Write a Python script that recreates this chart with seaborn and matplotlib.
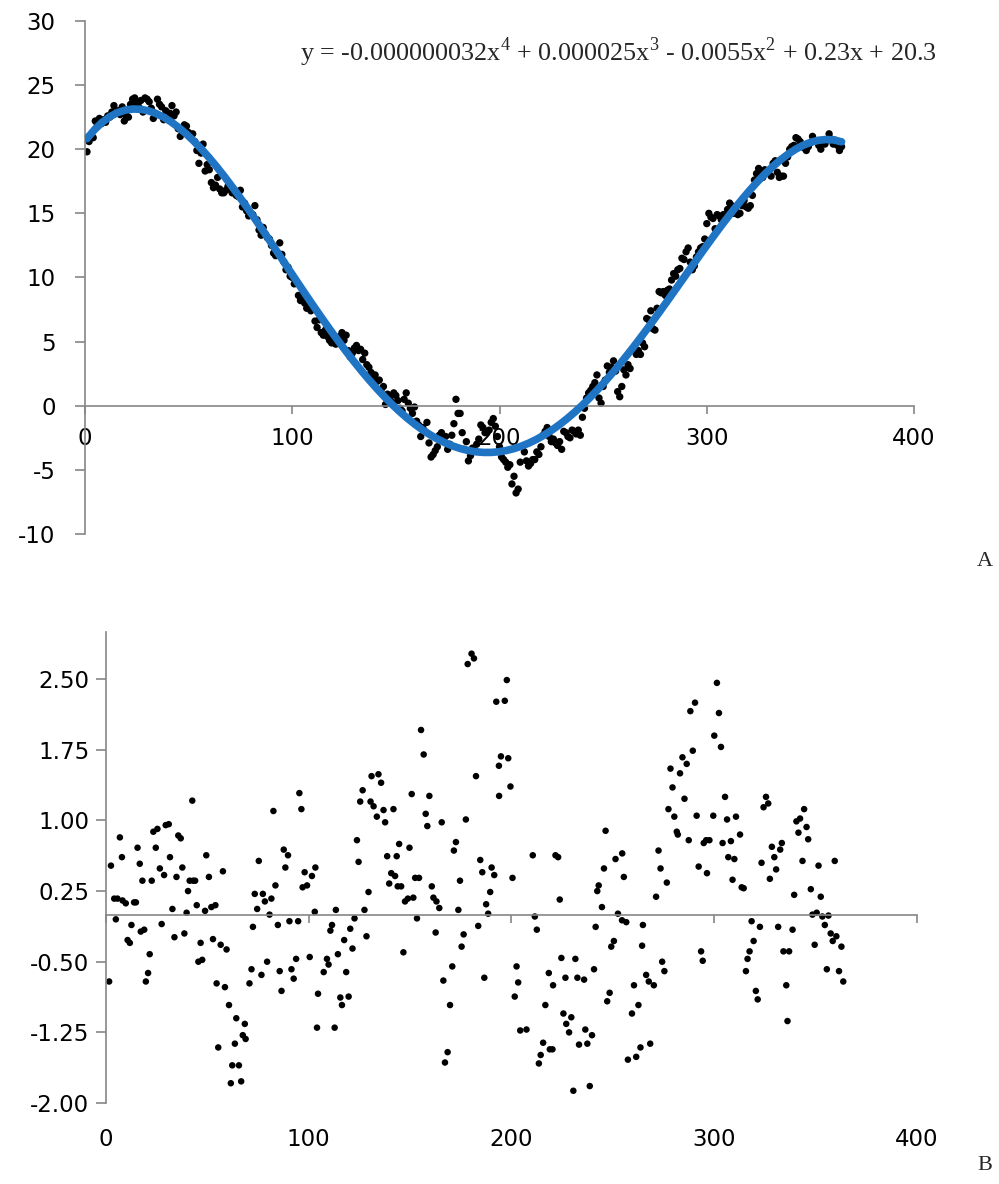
import numpy as np
import pandas as pd
import seaborn as sns
import matplotlib.pyplot as plt

# panel A: daily values, day 1..365
temp = [
    19.8, 20.6, 21.0, 20.9, 22.2, 21.9, 22.4, 22.0, 22.3, 22.1,
    22.6, 22.5, 22.9, 23.4, 22.8, 23.0, 22.7, 23.3, 22.2, 22.6,
    22.5, 23.5, 23.9, 24.0, 23.6, 23.3, 23.8, 22.9, 24.0, 23.9,
    23.7, 23.2, 22.4, 22.8, 23.9, 23.5, 23.3, 22.3, 23.0, 22.4,
    22.8, 23.4, 22.6, 22.9, 21.6, 21.0, 21.4, 21.9, 21.8, 21.3,
    20.9, 21.2, 20.6, 19.9, 18.9, 19.7, 20.4, 18.3, 18.8, 18.4,
    17.4, 17.0, 17.2, 17.8, 16.9, 16.6, 16.6, 16.8, 17.1, 16.9,
    16.6, 16.8, 16.4, 16.3, 16.8, 15.5, 15.8, 15.2, 14.8, 15.0,
    14.9, 15.6, 14.5, 13.7, 13.3, 13.9, 13.4, 13.1, 13.0, 12.5,
    11.9, 11.7, 11.9, 12.7, 11.8, 11.2, 10.6, 10.8, 10.1, 10.0,
    9.5, 9.6, 8.6, 8.2, 8.4, 8.0, 7.6, 7.9, 7.4, 7.6,
    6.6, 6.1, 6.7, 5.7, 5.5, 5.9, 5.4, 5.1, 4.9, 5.2,
    4.8, 5.0, 5.4, 5.7, 5.1, 5.5, 4.3, 3.8, 4.1, 4.5,
    4.7, 4.3, 4.4, 3.6, 4.1, 3.2, 3.0, 2.6, 2.2, 2.4,
    1.9, 2.0, 1.3, 1.5, 0.1, 0.9, 0.6, 0.3, 1.0, 0.8,
    0.4, -0.2, -0.4, 0.5, 1.0, 0.2, -0.2, -0.6, -0.1, -1.2,
    -1.5, -2.4, -1.7, -2.0, -1.3, -2.9, -4.0, -3.8, -3.5, -3.2,
    -2.3, -2.1, -2.8, -2.4, -3.4, -3.0, -2.3, -1.4, 0.5, -0.6,
    -0.6, -2.1, -3.4, -2.8, -4.3, -3.9, -3.3, -3.5, -3.0, -2.6,
    -1.5, -1.7, -2.1, -2.1, -1.9, -1.3, -1.0, -1.6, -2.4, -3.2,
    -4.0, -4.2, -4.4, -4.8, -4.6, -6.1, -5.5, -6.8, -6.5, -4.4,
    -3.2, -3.6, -4.3, -4.7, -4.5, -4.2, -4.2, -3.6, -3.8, -3.2,
    -2.3, -2.0, -1.7, -2.4, -2.8, -2.6, -2.9, -3.1, -2.8, -3.4,
    -2.0, -2.1, -2.4, -2.5, -1.9, -2.0, -2.2, -1.9, -2.3, -0.9,
    -0.2, 0.6, 1.0, 1.2, 1.5, 1.8, 2.4, 0.6, 0.2, 1.5,
    2.0, 3.1, 2.6, 3.0, 3.5, 2.7, 1.1, 0.7, 1.5, 2.8,
    2.4, 3.2, 2.9, 4.3, 4.6, 4.0, 4.3, 4.0, 4.9, 4.6,
    6.8, 6.7, 7.4, 6.0, 5.9, 7.6, 8.9, 8.8, 8.9, 8.6,
    9.0, 9.1, 9.8, 10.3, 10.1, 10.6, 10.7, 11.5, 11.4, 12.0,
    12.3, 11.2, 10.6, 10.9, 11.6, 12.0, 12.3, 12.4, 13.0, 14.2,
    15.0, 14.7, 14.6, 13.8, 14.9, 14.8, 14.5, 14.9, 14.6, 15.3,
    15.8, 15.6, 15.0, 15.2, 14.9, 15.0, 15.6, 16.0, 15.5, 15.4,
    15.6, 16.4, 17.6, 18.1, 18.5, 18.3, 17.8, 18.4, 18.3, 18.3,
    17.9, 18.9, 19.1, 18.2, 17.8, 17.9, 17.9, 18.9, 19.4, 20.0,
    20.2, 20.3, 20.9, 20.8, 20.6, 20.4, 20.1, 19.9, 20.2, 20.5,
    21.0, 20.7, 20.6, 20.3, 20.0, 20.6, 20.4, 20.7, 21.2, 20.8,
    20.4, 20.7, 20.3, 19.9, 20.2,
]
day_a = np.arange(1, len(temp) + 1)

# panel B: residuals (day, value)
res_day = [
    1.6, 2.5, 4.1, 4.9, 5.7, 6.9, 7.9, 8.2, 9.8, 10.7, 11.8, 12.6, 13.9, 14.8,
    15.6, 16.7, 17.2, 18.0, 18.9, 19.7, 20.8, 21.6, 22.6, 23.4, 24.6, 25.4,
    26.6, 27.5, 28.7, 29.5, 31.0, 31.6, 32.8, 33.8, 34.8, 35.7, 36.9, 37.7,
    38.7, 39.8, 40.5, 41.3, 42.6, 43.0, 44.0, 44.8, 45.6, 46.7, 47.5, 48.9,
    49.5, 50.8, 52.0, 52.8, 54.0, 54.6, 55.4, 56.6, 57.7, 58.7, 59.5, 60.7,
    61.6, 62.3, 63.6, 64.3, 65.6, 66.7, 67.5, 68.5, 68.9, 70.8, 71.8, 72.5,
    73.4, 74.6, 75.4, 76.7, 77.4, 78.4, 79.5, 80.7, 81.6, 82.6, 83.6, 84.8,
    85.7, 86.6, 87.7, 88.5, 89.8, 90.5, 91.5, 92.6, 93.8, 94.8, 95.4, 96.4,
    97.0, 98.0, 99.2, 100.5, 101.6, 103.0, 103.3, 104.1, 104.6,
    107.4, 109.0, 109.8, 110.7, 111.5, 112.8, 113.4, 114.4, 115.6, 116.4,
    117.5, 118.5, 119.7, 120.5, 121.6, 122.6, 123.8, 124.6, 125.4, 126.6,
    127.5, 128.5, 129.5, 130.5, 131.0, 132.0, 133.6, 134.4, 135.7, 136.9,
    137.7, 138.7, 139.7, 140.7, 141.8, 142.6, 143.4, 143.9, 144.6, 145.6,
    146.7, 147.5, 148.9, 149.7, 150.8, 151.6, 152.5, 153.4, 154.4, 155.4,
    156.7, 157.7, 158.5, 159.5, 160.7, 161.5, 162.6, 163.0, 164.4, 165.6,
    166.4, 167.2, 168.5, 169.7, 170.8, 171.6, 172.6, 173.8, 174.6, 175.4,
    176.4, 177.5, 178.4, 180.3, 181.5, 182.5, 183.6, 184.6, 185.6, 186.6,
    187.5, 188.5, 189.5, 190.2, 191.5, 192.5, 193.8, 193.9, 194.8, 196.7,
    197.7, 198.4, 199.5, 200.5, 201.6, 202.5, 203.3, 204.3, 207.4,
    210.5, 211.5, 212.5, 213.5, 214.4, 215.6, 216.7, 218.4, 218.9, 220.2,
    220.5, 221.7, 223.0, 223.8, 224.6, 225.6, 226.6, 227.0, 228.4, 229.5,
    230.5, 231.5, 232.5, 233.3, 235.8, 236.4, 237.4, 238.6, 239.7, 240.7,
    241.5, 242.3, 243.0, 244.6, 245.6, 246.4, 247.2, 248.4, 249.2, 250.5,
    251.3, 252.5, 254.5, 254.6, 255.4, 256.6, 257.4, 259.4, 260.4, 261.5,
    262.6, 263.6, 264.4, 264.8, 266.4, 267.7, 268.4, 270.2, 271.3, 272.5,
    273.5, 274.3, 275.4, 276.6, 277.4, 278.4, 279.4, 280.3, 281.5, 282.0,
    283.1, 284.3, 285.3, 286.4, 287.4, 288.2, 289.4, 290.5, 291.3, 292.3,
    293.5, 294.3, 294.8, 296.0, 296.4, 297.6, 299.5, 300.0, 301.3, 302.3,
    303.3, 304.1, 305.3, 306.3, 306.9, 308.2, 309.0, 309.9, 310.7,
    312.7, 313.5, 314.5, 315.6, 316.4, 317.4, 318.4, 319.4, 320.5, 321.4,
    322.5, 323.3, 324.3, 325.5, 326.6, 327.4, 328.4, 329.6, 330.5, 331.5,
    332.5, 333.3, 334.1, 335.5, 336.1, 336.9, 338.6, 339.4, 340.5, 341.5,
    342.3, 343.5, 344.3, 345.5, 346.3, 347.6, 348.4, 349.5, 350.5, 351.4,
    352.5, 353.3, 354.5, 355.5, 356.3, 357.4, 358.4, 359.4, 360.2, 361.5,
    362.7, 363.6,
]
res_val = [
    -0.71, 0.52, 0.17, -0.05, 0.17, 0.82, 0.61, 0.15, 0.12, -0.27, -0.30, -0.11, 0.13, 0.13,
    0.71, 0.54, -0.18, 0.36, -0.16, -0.71, -0.62, -0.42, 0.36, 0.88, 0.71, 0.91,
    0.49, -0.10, 0.42, 0.95, 0.96, 0.61, 0.06, -0.24, 0.40, 0.84, 0.81, 0.50,
    -0.20, 0.02, 0.25, 0.36, 1.21, 0.36, 0.36, 0.10, -0.50, -0.30, -0.48, 0.04,
    0.63, 0.40, 0.08, -0.26, 0.10, -0.73, -1.41, -0.32, 0.46, -0.77, -0.37, -0.96,
    -1.79, -1.60, -1.37, -1.10, -1.60, -1.77, -1.28, -1.16, -1.32, -0.73, -0.58, -0.13,
    0.22, 0.06, 0.57, -0.64, 0.22, 0.14, -0.50, 0.00, 0.17, 1.10, 0.31, -0.11,
    -0.60, -0.81, 0.69, 0.50, 0.63, -0.07, -0.58, -0.68, -0.47, -0.07, 1.29, 1.12,
    0.29, 0.45, 0.31, -0.45, 0.41, 0.03, 0.50, -1.20, -0.84,
    -0.61, -0.47, -0.53, -0.17, -0.11, -1.20, 0.05, -0.42, -0.88, -0.96,
    -0.27, -0.61, -0.87, -0.15, -0.36, -0.04, 0.79, 0.56, 1.20, 1.32,
    0.05, -0.23, 0.24, 1.20, 1.47, 1.15, 1.04, 1.49, 1.40, 1.11,
    0.98, 0.62, 0.33, 0.44, 1.12, 0.41, 0.62, 0.30, 0.75, 0.30,
    -0.40, 0.14, 0.17, 0.71, 1.28, 0.18, 0.39, -0.04, 0.39, 1.96,
    1.70, 1.07, 0.94, 1.26, 0.30, 0.18, -0.19, 0.14, 0.07, 0.98,
    -0.70, -1.57, -1.46, -0.96, -0.55, 0.68, 0.77, 0.05, 0.36, -0.34,
    -0.21, 1.01, 2.66, 2.77, 2.72, 1.47, -0.12, 0.58, 0.45, -0.67,
    0.11, 0.01, 0.24, 0.50, 0.42, 2.26, 1.58, 1.26, 1.68, 2.27,
    2.49, 1.66, 1.36, 0.39, -0.87, -0.55, -0.72, -1.23, -1.22,
    0.63, -0.02, -0.16, -1.58, -1.49, -1.36, -0.96, -0.62, -1.43, -1.43,
    -0.75, 0.63, 0.61, 0.16, -0.46, -1.05, -0.67, -1.16, -1.25, -1.09,
    -1.87, -0.47, -0.67, -1.38, -0.69, -1.22, -1.37, -1.82, -1.28, -0.58,
    -0.13, 0.25, 0.31, 0.08, 0.49, 0.89, -0.92, -0.83, -0.34, -0.28,
    0.59, 0.01, -0.06, 0.65, 0.40, -0.08, -1.54, -1.05, -0.75, -1.51,
    -0.96, -1.41, -0.33, -0.11, -0.64, -0.71, -1.37, -0.75, 0.19, 0.68,
    0.49, -0.50, -0.60, 0.34, 1.12, 1.55, 1.35, 1.04, 0.88, 0.85,
    1.50, 1.67, 1.23, 1.60, 0.79, 2.16, 1.74, 2.25, 1.05, 0.51,
    -0.39, -0.49, 0.76, 0.79, 0.44, 0.79, 1.05, 1.90, 2.46, 2.14,
    1.78, 0.76, 1.25, 1.01, 0.61, 0.78, 0.37, 0.59, 1.04,
    0.85, 0.29, 0.28, -0.60, -0.47, -0.39, -0.07, -0.28, -0.81, -0.90,
    -0.13, 0.55, 1.14, 1.25, 1.18, 0.38, 0.72, 0.61, 0.48, -0.13,
    0.69, 0.76, -0.39, -0.75, -1.13, -0.39, -0.16, 0.21, 0.99, 0.87,
    1.02, 0.57, 1.12, 0.93, 0.80, 0.27, 0.00, -0.32, 0.02, 0.52,
    0.19, -0.02, -0.11, -0.58, -0.01, -0.20, -0.28, 0.57, -0.23, -0.60,
    -0.34, -0.71,
]

x_ticks = [0, 100, 200, 300, 400]
a_yticks = [-10, -5, 0, 5, 10, 15, 20, 25, 30]
b_yticks = [-2.00, -1.25, -0.50, 0.25, 1.00, 1.75, 2.50]
eq_text = (r"y = -0.000000032x$^{4}$ + 0.000025x$^{3}$ - 0.0055x$^{2}$"
           r" + 0.23x + 20.3")

sns.set_style("ticks")
plt.rcParams['font.family'] = ['DejaVu Sans']
plt.rcParams['axes.unicode_minus'] = False
plt.rcParams['mathtext.fontset'] = 'custom'
plt.rcParams['mathtext.rm'] = 'Liberation Serif'

gray = '#868686'
blue = '#1f75c4'

fig = plt.figure(figsize=(9.99, 11.84), dpi=100)

# ---- panel A
ax1 = fig.add_axes([0.085, 0.549, 0.830, 0.4333])
dfa = pd.DataFrame({'day': day_a, 'temp': temp})
sns.scatterplot(data=dfa, x='day', y='temp', ax=ax1, color='black', s=28,
                edgecolor='none', linewidth=0, zorder=2)
sns.regplot(data=dfa, x='day', y='temp', ax=ax1, order=4, scatter=False,
            ci=None, color=blue, line_kws={'lw': 5.5, 'zorder': 3})
ax1.set_xlim(0, 400)
ax1.set_ylim(-10, 30)
ax1.set_xticks(x_ticks)
ax1.set_yticks(a_yticks)
ax1.set_xlabel('')
ax1.set_ylabel('')
ax1.spines['bottom'].set_position(('data', 0))
for s in ['top', 'right']:
    ax1.spines[s].set_visible(False)
for s in ['bottom', 'left']:
    ax1.spines[s].set_color(gray)
    ax1.spines[s].set_linewidth(1.2)
ax1.tick_params(axis='y', direction='out', length=7, width=1.2, color=gray,
                labelcolor='black', labelsize=16.5, pad=14)
ax1.tick_params(axis='x', direction='out', length=6, width=1.2, color=gray,
                labelcolor='black', labelsize=16.5, pad=9)
fig.text(0.300, 1 - 52 / 1184, eq_text, family='Liberation Serif',
         fontsize=18.8, ha='left', va='center')
fig.text(0.986, 1 - 562 / 1184, 'A', family='Liberation Serif',
         fontsize=16, ha='center', va='center')

# ---- panel B
ax2 = fig.add_axes([0.106, 0.0684, 0.812, 0.3978])
dfb = pd.DataFrame({'day': res_day, 'res': res_val})
sns.scatterplot(data=dfb, x='day', y='res', ax=ax2, color='black', s=22,
                edgecolor='none', linewidth=0)
ax2.set_xlim(0, 400)
ax2.set_ylim(-2, 3)
ax2.set_yticks(b_yticks)
ax2.set_yticklabels([f'{v:.2f}' for v in b_yticks])
ax2.set_xticks(x_ticks)
ax2.set_xlabel('')
ax2.set_ylabel('')
ax2.spines['bottom'].set_position(('data', 0))
for s in ['top', 'right']:
    ax2.spines[s].set_visible(False)
for s in ['bottom', 'left']:
    ax2.spines[s].set_color(gray)
    ax2.spines[s].set_linewidth(1.2)
ax2.tick_params(axis='y', direction='out', length=7, width=1.2, color=gray,
                labelcolor='black', labelsize=16.5, pad=5)
ax2.tick_params(axis='x', direction='out', length=6, width=1.2, color=gray,
                labelbottom=False)
# x labels sit at the bottom of the panel, the axis line at zero
sec = ax2.secondary_xaxis('bottom')
sec.set_xticks(x_ticks)
sec.spines['bottom'].set_visible(False)
sec.tick_params(axis='x', length=0, labelcolor='black', labelsize=16.5, pad=18)
fig.text(0.986, 1 - 1166 / 1184, 'B', family='Liberation Serif',
         fontsize=16, ha='center', va='center')

fig.savefig('out.png', dpi=100, facecolor='white')
